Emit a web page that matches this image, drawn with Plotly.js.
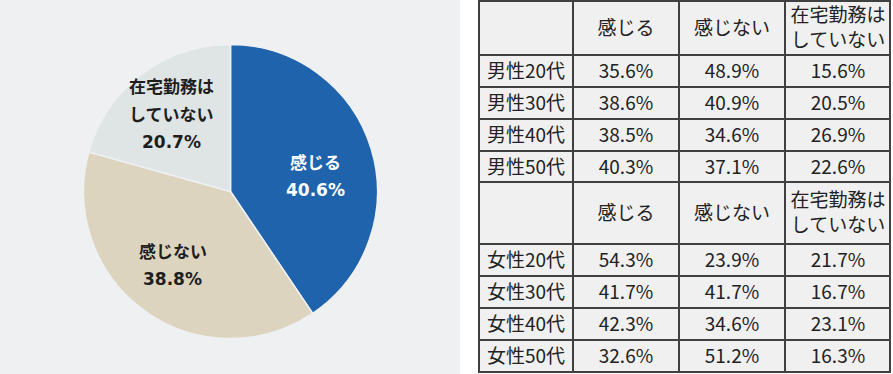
<!DOCTYPE html>
<html><head><meta charset="utf-8">
<script src="https://cdn.plot.ly/plotly-3.0.1.min.js"></script>
<style>html,body{margin:0;padding:0;background:#fff}#chart{width:893px;height:374px}</style>
</head><body><div id="chart"></div>
<script>
// ---- data ----
const pieLabels = ['感じる', '感じない', '在宅勤務はしていない'];
const pieValues = [40.6, 38.8, 20.7];
const colLabels = ['感じる', '感じない', '在宅勤務はしていない'];
const maleGroups = ['男性20代', '男性30代', '男性40代', '男性50代'];
const maleFeel = [35.6, 38.6, 38.5, 40.3];
const maleNotFeel = [48.9, 40.9, 34.6, 37.1];
const maleNoRemote = [15.6, 20.5, 26.9, 22.6];
const femaleGroups = ['女性20代', '女性30代', '女性40代', '女性50代'];
const femaleFeel = [54.3, 41.7, 42.3, 32.6];
const femaleNotFeel = [23.9, 41.7, 34.6, 51.2];
const femaleNoRemote = [21.7, 16.7, 23.1, 16.3];

// ---- helpers / layout ----
const W = 893, H = 374;
const splitLabel = s => s.length > 6 ? [s.slice(0, 5), s.slice(5)] : [s];
const pct = v => v.toFixed(1) + '%';
const px2x = x => x / W;
const px2y = y => 1 - y / H;

const colW = [94, 106, 106, 105];
const rowH = [54, 32, 32, 32, 31, 62, 32, 32, 32, 32];
const xEdges = [0]; colW.forEach(w => xEdges.push(xEdges[xEdges.length - 1] + w));
const yEdges = [0]; rowH.forEach(h => yEdges.push(yEdges[yEdges.length - 1] + h));
const tW = xEdges[xEdges.length - 1], tH = yEdges[yEdges.length - 1];
const tX0 = 479, tY0 = 1;

const header = [''].concat(colLabels.map(s => splitLabel(s).join('<br>')));
const cellText = [header];
maleGroups.forEach((g, i) => cellText.push([g, pct(maleFeel[i]), pct(maleNotFeel[i]), pct(maleNoRemote[i])]));
cellText.push(header);
femaleGroups.forEach((g, i) => cellText.push([g, pct(femaleFeel[i]), pct(femaleNotFeel[i]), pct(femaleNoRemote[i])]));
const z = cellText.map(r => r.map(() => 0));

const pieColors = ['#2063ad', '#ddd4c0', '#dfe4e5'];
const labelColors = ['#ffffff', '#1e1e1e', '#1e1e1e'];
const labelCenters = [[315, 176.5], [172.5, 265], [171.7, 114.5]];
const lineGap = 27;

const annotations = [];
pieLabels.forEach((lab, k) => {
  const lines = splitLabel(lab).concat([pct(pieValues[k])]);
  const n = lines.length;
  lines.forEach((t, i) => {
    const cy = labelCenters[k][1] + (i - (n - 1) / 2) * lineGap;
    annotations.push({
      xref: 'paper', yref: 'paper', x: px2x(labelCenters[k][0]), y: px2y(cy),
      xanchor: 'center', yanchor: 'middle', showarrow: false, text: '<b>' + t + '</b>',
      font: {family: '"DejaVu Sans", "Noto Sans CJK JP", sans-serif', size: 17, color: labelColors[k]}
    });
  });
});

const pie = {
  type: 'pie', labels: pieLabels, values: pieValues, sort: false, direction: 'clockwise', rotation: 0,
  marker: {colors: pieColors, line: {color: '#eef0f2', width: 1.5}},
  textinfo: 'none', hoverinfo: 'skip', showlegend: false,
  domain: {x: [px2x(83.5), px2x(377.5)], y: [px2y(338.5), px2y(44.5)]}
};

const table = {
  type: 'heatmap', x: xEdges, y: yEdges, z: z, text: cellText, texttemplate: '%{text}',
  textfont: {family: '"Noto Sans CJK JP", "Noto Sans", sans-serif', size: 19, color: '#222222'},
  colorscale: [[0, '#f0f0f0'], [1, '#f0f0f0']], zmin: 0, zmax: 1, showscale: false,
  xgap: 2, ygap: 2, hoverinfo: 'skip', xaxis: 'x', yaxis: 'y'
};

const layout = {
  width: W, height: H, margin: {l: 0, r: 0, t: 0, b: 0},
  paper_bgcolor: '#ffffff', plot_bgcolor: '#404040',
  showlegend: false,
  xaxis: {domain: [px2x(tX0 - 1), px2x(tX0 + tW + 1)], range: [-1, tW + 1], visible: false, fixedrange: true},
  yaxis: {domain: [px2y(tY0 + tH + 1), px2y(tY0 - 1)], range: [tH + 1, -1], visible: false, fixedrange: true},
  shapes: [{type: 'rect', xref: 'paper', yref: 'paper', x0: 0, x1: px2x(460), y0: 0, y1: 1,
            fillcolor: '#eef0f2', line: {width: 0}, layer: 'below'}],
  annotations: annotations
};

Plotly.newPlot('chart', [pie, table], layout, {staticPlot: true, displayModeBar: false});
</script>
</body></html>
